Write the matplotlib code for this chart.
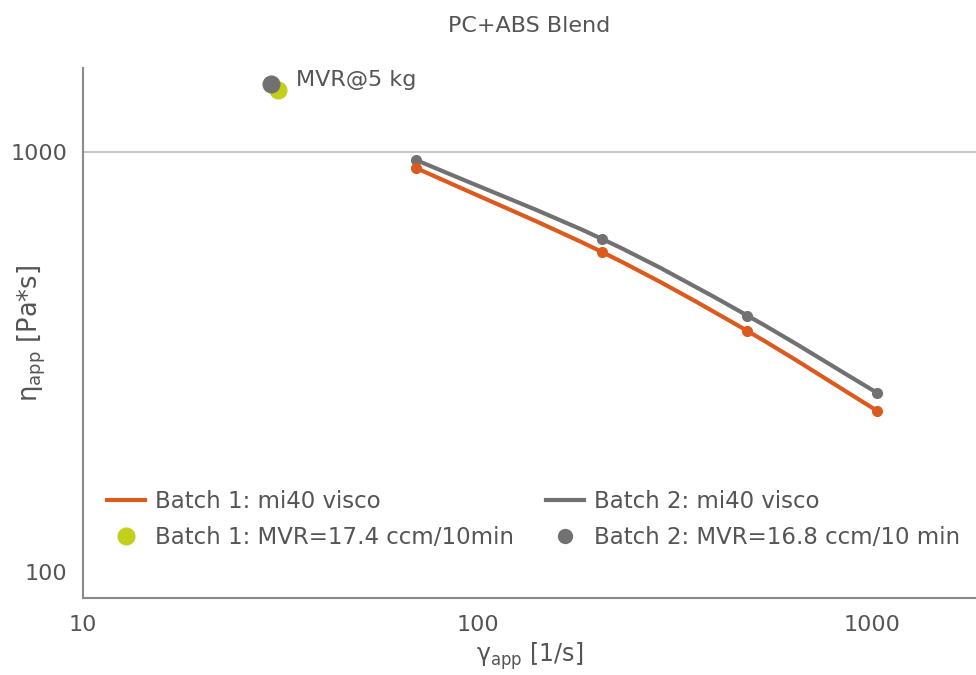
import numpy as np
import matplotlib
matplotlib.use("Agg")
import matplotlib.pyplot as plt
from matplotlib.path import Path
from matplotlib.patches import PathPatch
from matplotlib.lines import Line2D

# Apparent shear rate [1/s] and apparent viscosity [Pa*s]
shear_rate = [70, 207, 483, 1030]
batch1_visc = [916, 578, 375, 242]
batch2_visc = [957, 621, 408, 267]

# MVR-derived single points (5 kg load)
mvr_rate_b1 = [31.2]
mvr_visc_b1 = [1405]
mvr_rate_b2 = [29.9]
mvr_visc_b2 = [1452]

x_ticks = [10, 100, 1000]
y_ticks = [100, 1000]

ORANGE = "#DD5A1E"
GREY = "#717171"
GREEN = "#C2D01B"
TEXT = "#555555"
AXIS = "#8a8a8a"

plt.rcParams["font.family"] = ["DejaVu Sans"]
plt.rcParams["mathtext.fontset"] = "dejavusans"


def smooth_path(xs, ys):
    """Cubic Bezier through the points (Catmull-Rom tangents in log space)."""
    lx = np.log10(xs)
    ly = np.log10(ys)
    n = len(lx)
    tx = np.gradient(lx)
    ty = np.gradient(ly)
    verts = [(lx[0], ly[0])]
    codes = [Path.MOVETO]
    for i in range(n - 1):
        verts += [(lx[i] + tx[i] / 3, ly[i] + ty[i] / 3),
                  (lx[i + 1] - tx[i + 1] / 3, ly[i + 1] - ty[i + 1] / 3),
                  (lx[i + 1], ly[i + 1])]
        codes += [Path.CURVE4] * 3
    verts = 10 ** np.array(verts)
    return Path(verts, codes)


fig = plt.figure(figsize=(9.76, 6.75), dpi=100)
ax = fig.add_axes([0.085, 0.114, 0.915, 0.785])
ax.set_xscale("log")
ax.set_yscale("log")
ax.set_xlim(10, 1833)
ax.set_ylim(86.7, 1585)

ax.axhline(1000, color="#c8c8c8", lw=1.5, zorder=0)

for ys, col in [(batch2_visc, GREY), (batch1_visc, ORANGE)]:
    ax.add_patch(PathPatch(smooth_path(shear_rate, ys), fill=False,
                           edgecolor=col, lw=3, capstyle="round", zorder=2))
    ax.plot(shear_rate, ys, "o", color=col, ms=7, zorder=3)

ax.plot(mvr_rate_b1, mvr_visc_b1, "o", color=GREEN, ms=12, zorder=3)
ax.plot(mvr_rate_b2, mvr_visc_b2, "o", color=GREY, ms=12, zorder=4)
ax.annotate("MVR@5 kg", (mvr_rate_b2[0], mvr_visc_b2[0]), xytext=(18, 3),
            textcoords="offset points", fontsize=16, color=TEXT, va="center")

for s in ["top", "right"]:
    ax.spines[s].set_visible(False)
for s in ["left", "bottom"]:
    ax.spines[s].set_color(AXIS)
    ax.spines[s].set_linewidth(1.5)

ax.set_xticks(x_ticks)
ax.set_xticklabels([str(v) for v in x_ticks])
ax.set_yticks(y_ticks)
ax.set_yticklabels([str(v) for v in y_ticks])
ax.minorticks_off()
ax.tick_params(axis="both", length=0, labelsize=16, labelcolor=TEXT)
ax.tick_params(axis="x", pad=12)
ax.tick_params(axis="y", pad=11)

ax.set_xlabel(r"$\mathregular{\gamma_{app}}$ [1/s]", fontsize=17, color=TEXT, labelpad=4)
ax.set_ylabel(r"$\mathregular{\eta_{app}}$ [Pa*s]", fontsize=18.5, color=TEXT)
ax.yaxis.set_label_coords(-0.039, 0.5)
ax.set_title("PC+ABS Blend", fontsize=16, color=TEXT, pad=26)

handles = [
    Line2D([], [], color=ORANGE, lw=3),
    Line2D([], [], ls="none", marker="o", color=GREEN, ms=12),
    Line2D([], [], color=GREY, lw=3),
    Line2D([], [], ls="none", marker="o", color=GREY, ms=10),
]
labels = ["Batch 1: mi40 visco", "Batch 1: MVR=17.4 ccm/10min",
          "Batch 2: mi40 visco", "Batch 2: MVR=16.8 ccm/10 min"]
leg = ax.legend(handles, labels, ncol=2, loc="lower left",
                bbox_to_anchor=(0.027, 0.092), frameon=False, fontsize=16.5,
                labelcolor=TEXT, handlelength=1.66, columnspacing=1.4,
                handletextpad=0.44, labelspacing=0.6, borderpad=0,
                borderaxespad=0)

fig.savefig("out.png", dpi=100)
